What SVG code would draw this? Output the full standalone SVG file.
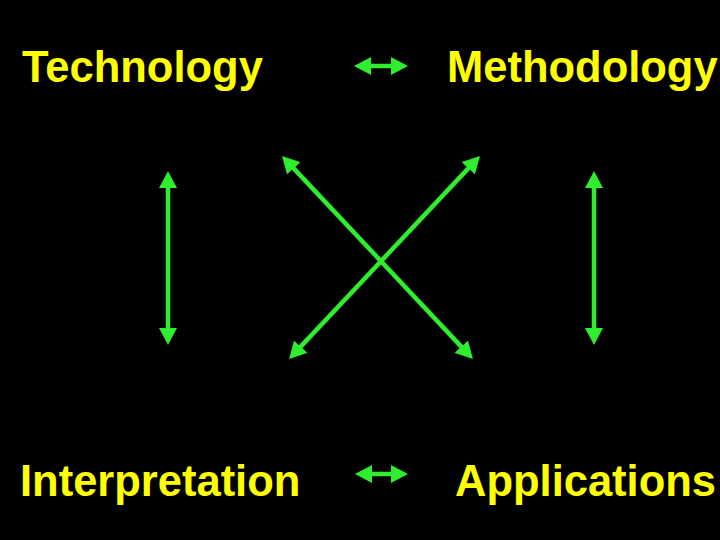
<svg xmlns="http://www.w3.org/2000/svg" width="720" height="540" viewBox="0 0 720 540">
<defs>
<style>
.lbl{font-family:"Liberation Sans",Arial,sans-serif;font-weight:bold;font-size:43.5px;fill:#FFFF00}
.con{stroke:#2EEE2E;stroke-width:4.5;fill:none;marker-start:url(#ah);marker-end:url(#ah)}
</style>
<marker id="ah" markerUnits="userSpaceOnUse" markerWidth="18" markerHeight="18" refX="1" refY="9" orient="auto-start-reverse" viewBox="0 0 18 18">
<path d="M0,0 L17,9 L0,18 z" fill="#2EEE2E"/>
</marker>
</defs>
<rect width="720" height="540" fill="#000"/>
<g id="technology"><text class="lbl" x="22" y="82">Technology</text></g>
<g id="methodology"><text class="lbl" x="447" y="82">Methodology</text></g>
<g id="interpretation"><text class="lbl" x="20" y="496">Interpretation</text></g>
<g id="applications"><text class="lbl" x="455" y="496">Applications</text></g>
<g id="connectors">
<line class="con" x1="370" y1="66" x2="392" y2="66"/>
<line class="con" x1="371" y1="474" x2="392" y2="474"/>
<line class="con" x1="168" y1="187" x2="168" y2="329"/>
<line class="con" x1="594" y1="187" x2="594" y2="329"/>
<line class="con" x1="293" y1="167.6" x2="462" y2="347.4"/>
<line class="con" x1="469" y1="167.6" x2="300" y2="347.4"/>
</g>
</svg>
